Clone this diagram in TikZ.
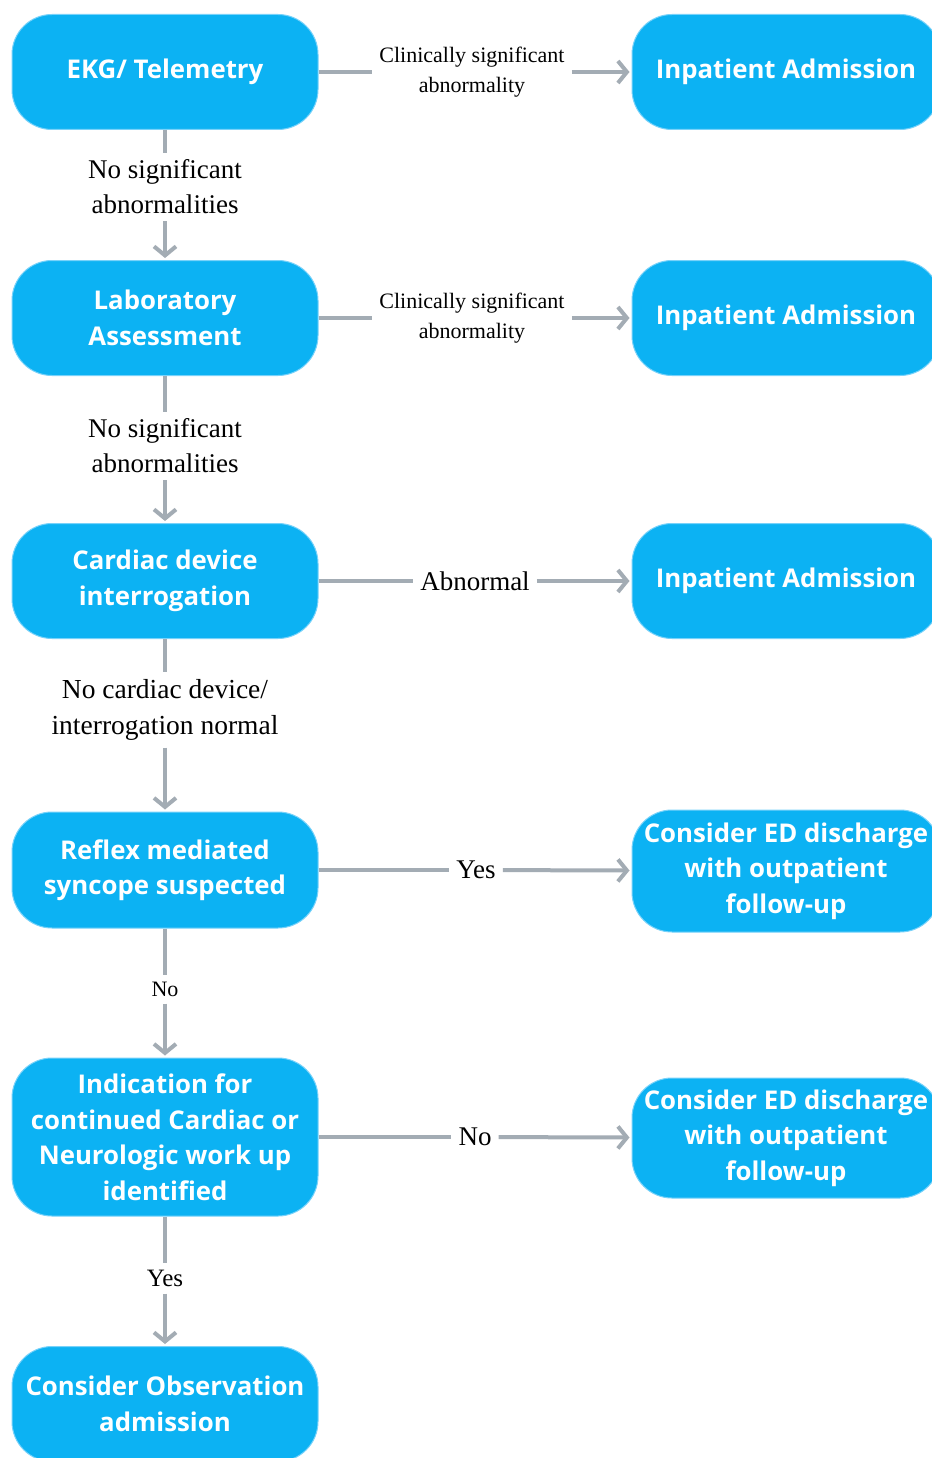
\documentclass[tikz,border=0pt]{standalone}
\usepackage{fontspec}
\setmainfont{Liberation Serif}
\newfontfamily\boxfont{Open Sans}
\usetikzlibrary{arrows.meta}
\definecolor{boxblue}{RGB}{12,178,243}
\definecolor{boxedge}{RGB}{120,210,250}
\definecolor{linegray}{RGB}{163,172,180}
\begin{document}
\begin{tikzpicture}[x=1pt,y=-1pt,
  box/.style={fill=boxblue, draw=boxedge, line width=1pt, rounded corners=40pt,
    minimum width=306pt, minimum height=115pt, text=white, align=center,
    font=\boxfont\bfseries\fontsize{25.8}{35.5}\selectfont, inner sep=0pt},
  rbox/.style={box, minimum width=308pt},
  lbl/.style={fill=white, align=center, inner sep=7pt, font=\fontsize{27}{35}\selectfont},
  slbl/.style={fill=white, align=center, inner sep=7pt, font=\fontsize{22}{30}\selectfont},
  conn/.style={draw=linegray, line width=4pt},
  arr/.style={conn, -{Straight Barb[length=9pt,width=22pt,line width=4pt]}, shorten >=2pt}]
\useasboundingbox (0,0) rectangle (931,1458);
\fill[white] (0,0) rectangle (931,1458);

% left column
\node[box] (ekg) at (165,72) {EKG/ Telemetry};
\node[box] (lab) at (165,318) {Laboratory\\Assessment};
\node[box] (dev) at (165,581) {Cardiac device\\interrogation};
\node[box, minimum height=116pt] (ref) at (165,870) {Reflex mediated\\syncope suspected};
\node[box, minimum height=158pt] (ind) at (165,1137) {Indication for\\continued Cardiac or\\Neurologic work up\\identified};
\node[box] (obs) at (165,1404) {Consider Observation\\admission};

% right column
\node[rbox] (ia1) at (786,72) {Inpatient Admission};
\node[rbox] (ia2) at (786,318) {Inpatient Admission};
\node[rbox] (ia3) at (786,581) {Inpatient Admission};
\node[rbox, minimum height=122pt] (ed1) at (786,871) {Consider ED discharge\\with outpatient\\follow-up};
\node[rbox, minimum height=120pt] (ed2) at (786,1138) {Consider ED discharge\\with outpatient\\follow-up};

% horizontal labels
\node[slbl] (h1) at (472,72) {Clinically significant\\abnormality};
\node[slbl] (h2) at (472,318) {Clinically significant\\abnormality};
\node[lbl] (h3) at (475,581) {Abnormal};
\node[lbl] (h4) at (476,870) {Yes};
\node[lbl] (h5) at (475,1137) {No};

% vertical labels
\node[lbl] (v1) at (165,187) {No significant\\abnormalities};
\node[lbl] (v2) at (165,446) {No significant\\abnormalities};
\node[lbl, font=\fontsize{27.5}{36}\selectfont] (v3) at (165,710) {No cardiac device/\\interrogation normal};
\node[slbl] (v4) at (165,989) {No};
\node[lbl, font=\fontsize{25}{30}\selectfont] (v5) at (165,1278) {Yes};

% connectors
\draw[conn] (ekg) -- (h1);  \draw[arr] (h1) -- (ia1);
\draw[conn] (lab) -- (h2);  \draw[arr] (h2) -- (ia2);
\draw[conn] (dev) -- (h3);  \draw[arr] (h3) -- (ia3);
\draw[conn] (ref) -- (h4);  \draw[arr] (h4) -- (ed1);
\draw[conn] (ind) -- (h5);  \draw[arr] (h5) -- (ed2);

\draw[conn] (ekg) -- (v1);  \draw[arr] (v1) -- (lab);
\draw[conn] (lab) -- (v2);  \draw[arr] (v2) -- (dev);
\draw[conn] (dev) -- (v3);  \draw[arr] (v3) -- (ref);
\draw[conn] (ref) -- (v4);  \draw[arr] (v4) -- (ind);
\draw[conn] (ind) -- (v5);  \draw[arr] (v5) -- (obs);
\end{tikzpicture}
\end{document}
